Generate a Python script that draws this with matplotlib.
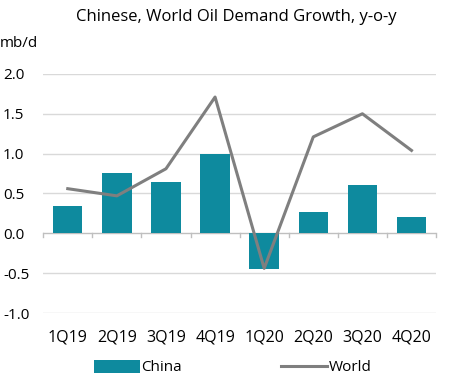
import matplotlib
matplotlib.use("Agg")
import matplotlib.pyplot as plt
from matplotlib.patches import Patch
from matplotlib.lines import Line2D
import numpy as np

categories = ["1Q19", "2Q19", "3Q19", "4Q19", "1Q20", "2Q20", "3Q20", "4Q20"]
china = [0.34, 0.76, 0.65, 0.99, -0.45, 0.27, 0.60, 0.20]
world = [0.56, 0.47, 0.81, 1.71, -0.44, 1.21, 1.50, 1.04]
yticks = [-1.0, -0.5, 0.0, 0.5, 1.0, 1.5, 2.0]

plt.rcParams['font.family'] = ['Open Sans', 'DejaVu Sans']

fig = plt.figure(figsize=(4.5, 3.85), dpi=100)
ax = fig.add_axes([0.096, 0.187, 0.873, 0.621])

x = np.arange(len(categories))
bar_color = "#0E8A9E"
line_color = "#7F7F7F"

for yv in yticks:
    if yv != 0:
        ax.axhline(yv, color="#D9D9D9", lw=1.0, zorder=0)
ax.bar(x, china, width=0.6, color=bar_color, zorder=2)
ax.plot(x, world, color=line_color, lw=2.2, zorder=3)
ax.axhline(0, color="#BFBFBF", lw=1.0, zorder=1)

ax.set_xlim(-0.5, len(categories) - 0.5)
ax.set_ylim(-1.0, 2.0)
ax.set_yticks(yticks)
ax.set_yticklabels([f"{v:.1f}" for v in yticks], fontsize=11)
ax.tick_params(axis='y', length=0, pad=29)
for lbl in ax.get_yticklabels():
    lbl.set_horizontalalignment('left')
ax.set_xticks(x)
ax.set_xticklabels(categories, fontsize=11.5)
ax.tick_params(axis='x', length=0, pad=12)

# category boundary ticks on zero line
for b in np.arange(-0.5, len(categories), 1.0):
    ax.plot([b, b], [0, -0.05], color="#BFBFBF", lw=1.0, zorder=1, clip_on=False)

for s in ax.spines.values():
    s.set_visible(False)

fig.text(0.168, 0.955, "Chinese, World Oil Demand Growth, y-o-y", ha='left', va='center', fontsize=12)
fig.text(0.0, 0.888, "mb/d", ha='left', va='center', fontsize=11)

handles = [Patch(facecolor=bar_color, edgecolor='none'),
           Line2D([0], [0], color=line_color, lw=2.2)]
fig.legend(handles, ["China", "World"], loc='center', bbox_to_anchor=(0.517, 0.045),
           ncol=2, frameon=False, fontsize=11, columnspacing=6.5,
           handlelength=3.0, handletextpad=0.1, handleheight=0.9)

fig.savefig("out.png", dpi=100)
